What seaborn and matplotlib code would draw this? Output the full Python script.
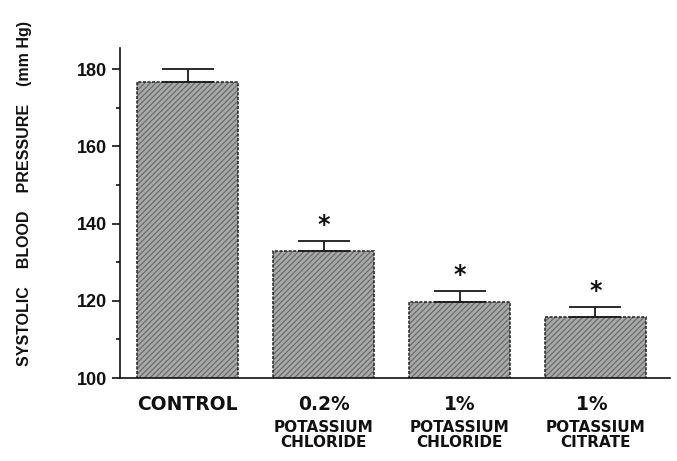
import numpy as np
import pandas as pd
import seaborn as sns
import matplotlib.pyplot as plt
from matplotlib import font_manager as fm
from matplotlib.ticker import MultipleLocator
import matplotlib.transforms as mtransforms

# Values
groups = ['CONTROL', '0.2%', '1%', '1% ']
sub_labels = ['', 'POTASSIUM\nCHLORIDE', 'POTASSIUM\nCHLORIDE', 'POTASSIUM\nCITRATE']
sbp = [176.8, 132.8, 119.6, 115.8]
sem = [3.2, 2.6, 2.9, 2.7]
significant = [False, True, True, True]

df = pd.DataFrame({'group': groups, 'sbp': sbp})

sns.set_style('ticks')
plt.rcParams['font.family'] = ['DejaVu Sans']
plt.rcParams['hatch.linewidth'] = 0.9
for key in ['text.color', 'axes.labelcolor', 'xtick.color', 'ytick.color', 'axes.edgecolor']:
    plt.rcParams[key] = '#111111'

# pick the regular-width Liberation Sans Bold file directly (avoid the Narrow variant)
lib_bold = [f.fname for f in fm.fontManager.ttflist
            if f.fname.endswith('LiberationSans-Bold.ttf')]


def lib_font(size):
    if lib_bold:
        return fm.FontProperties(fname=lib_bold[0], size=size)
    return fm.FontProperties(family='DejaVu Sans', weight='bold', size=size)


fig = plt.figure(figsize=(6.77, 4.61), dpi=100)
ax = fig.add_axes([0.177, 0.18, 0.813, 0.716])

# hatched fill (hatch takes the edge colour), then a dark dotted outline
sns.barplot(data=df, x='group', y='sbp', color='#a8aaaa', width=0.74,
            edgecolor='#6a6a6a', linewidth=0, errorbar=None, ax=ax)
for bar in ax.patches:
    bar.set_hatch('//////')
sns.barplot(data=df, x='group', y='sbp', color='#1e1e1e', width=0.74,
            fill=False, linewidth=1.1, errorbar=None, ax=ax)
for bar in ax.patches[len(groups):]:
    bar.set_linestyle((0, (2, 1)))
    bar.set_edgecolor('#1e1e1e')

# upper-only error bars
x = np.arange(len(groups))
ax.errorbar(x, sbp, yerr=[np.zeros(len(sem)), sem], fmt='none',
            ecolor='#1a1a1a', elinewidth=1.3, capsize=19, capthick=1.3)

for xi, m, e, s in zip(x, sbp, sem, significant):
    if s:
        ax.text(xi, m + e + 1.0, '*', ha='center', va='bottom',
                fontsize=17, fontweight='bold')

ax.set_ylim(100, 185.5)
ax.set_xlim(-0.5, 3.55)
ax.yaxis.set_major_locator(MultipleLocator(20))
ax.yaxis.set_minor_locator(MultipleLocator(10))
ax.tick_params(axis='y', which='major', length=6, width=1.2)
ax.tick_params(axis='y', which='minor', length=3, width=1.2)
ax.tick_params(axis='x', length=0, pad=12)
for lab in ax.get_yticklabels():
    lab.set_fontproperties(lib_font(13))
for lab in ax.get_xticklabels():
    lab.set_fontweight('bold')
    lab.set_fontsize(13.5)

trans = mtransforms.blended_transform_factory(ax.transData, ax.transAxes)
for xi, sub in zip(x, sub_labels):
    if sub:
        ax.text(xi, -0.126, sub, transform=trans, ha='center', va='top',
                fontsize=11, fontweight='bold', linespacing=1.0)

ax.set_xlabel('')
ax.set_ylabel('SYSTOLIC    BLOOD    PRESSURE    (mm Hg)',
              fontproperties=lib_font(11.5))
ax.yaxis.set_label_coords(-0.16, 0.56)

sns.despine(ax=ax)
ax.spines['left'].set_linewidth(1.2)
ax.spines['bottom'].set_linewidth(1.2)

fig.savefig('out.png', dpi=100)
